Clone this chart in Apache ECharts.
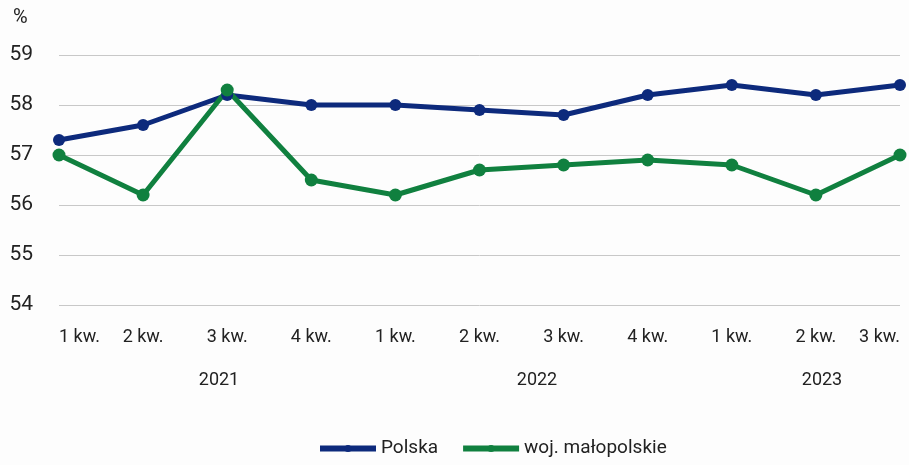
<!DOCTYPE html>
<html>
<head>
<meta charset="utf-8">
<script src="https://cdn.jsdelivr.net/npm/echarts@6/dist/echarts.min.js"></script>
<style>
  html, body { margin: 0; padding: 0; background: #fdfdfd; }
  #main { width: 909px; height: 465px; }
</style>
</head>
<body>
<div id="main"></div>
<script>
// dane
const quarters = ['1 kw.', '2 kw.', '3 kw.', '4 kw.', '1 kw.', '2 kw.', '3 kw.', '4 kw.', '1 kw.', '2 kw.', '3 kw.'];
const years = ['2021', '2022', '2023'];
const yearPos = [219, 537, 822];
const polska = [57.3, 57.6, 58.2, 58.0, 58.0, 57.9, 57.8, 58.2, 58.4, 58.2, 58.4];
const malopolskie = [57.0, 56.2, 58.3, 56.5, 56.2, 56.7, 56.8, 56.9, 56.8, 56.2, 57.0];

const font = 'Roboto, sans-serif';
const chart = echarts.init(document.getElementById('main'));

const option = {
  backgroundColor: '#fdfdfd',
  animation: false,
  textStyle: { fontFamily: font, color: '#222' },
  grid: { left: 59, right: 9, top: 55, bottom: 160, outerBoundsMode: 'none', containLabel: false },
  xAxis: {
    type: 'category',
    data: quarters,
    boundaryGap: false,
    axisLine: { show: false },
    axisTick: { show: false },
    axisLabel: {
      color: '#222', fontSize: 18, margin: 23, fontFamily: font,
      alignMinLabel: 'left', alignMaxLabel: 'right'
    }
  },
  yAxis: {
    type: 'value',
    min: 54,
    max: 59,
    interval: 1,
    axisLine: { show: false },
    axisTick: { show: false },
    axisLabel: { color: '#222', fontSize: 21, margin: 26, fontFamily: font },
    splitLine: { lineStyle: { color: '#c8c8c8', width: 1 } }
  },
  legend: {
    bottom: 2,
    left: 312,
    itemWidth: 56,
    itemHeight: 9,
    itemGap: 22,
    lineStyle: { width: 6 },
    textStyle: { fontSize: 19, color: '#222', fontFamily: font },
    data: ['Polska', 'woj. małopolskie']
  },
  graphic: [
    { type: 'text', left: 13, top: 8, style: { text: '%', fontSize: 20, fill: '#222', fontFamily: font } }
  ].concat(years.map((y, i) => ({
    type: 'text', x: yearPos[i], y: 380,
    style: { text: y, fontSize: 18, fill: '#222', fontFamily: font, align: 'center', verticalAlign: 'middle' }
  }))),
  series: [
    {
      name: 'Polska',
      type: 'line',
      data: polska,
      color: '#0d2a7c',
      symbol: 'circle',
      symbolSize: 12,
      lineStyle: { width: 5 }
    },
    {
      name: 'woj. małopolskie',
      type: 'line',
      data: malopolskie,
      color: '#10803f',
      symbol: 'circle',
      symbolSize: 13,
      lineStyle: { width: 5 }
    }
  ]
};
chart.setOption(option);
</script>
</body>
</html>
